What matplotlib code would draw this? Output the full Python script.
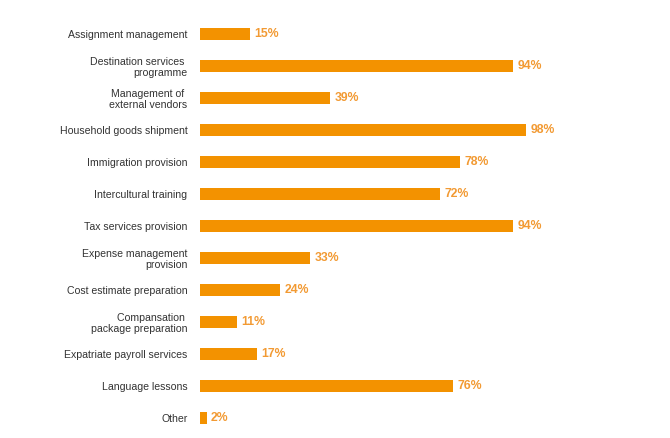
import matplotlib.pyplot as plt

categories = ['Assignment management', 'Destination services \nprogramme',
              'Management of \nexternal vendors', 'Household goods shipment',
              'Immigration provision', 'Intercultural training',
              'Tax services provision', 'Expense management\nprovision',
              'Cost estimate preparation', 'Compansation \npackage preparation',
              'Expatriate payroll services', 'Language lessons', 'Other']
values = [15, 94, 39, 98, 78, 72, 94, 33, 24, 11, 17, 76, 2]

bar_color = '#f39200'
pct_color = '#f29a33'

plt.rcParams['font.family'] = ['Liberation Sans', 'DejaVu Sans']

fig = plt.figure(figsize=(6.7, 4.38), dpi=100)
ax = fig.add_axes([200 / 670, 4 / 438, 333 / 670, 416 / 438])

y = list(range(len(categories)))
ax.barh(y, values, height=0.4, color=bar_color)

for yi, v in zip(y, values):
    ax.text(v + 1.3, yi, f'{v}%', va='center', ha='left', color=pct_color,
            fontsize=8.8, fontweight='bold')

ax.set_yticks(y)
ax.set_yticklabels(categories, fontsize=7.6, color='#333333', linespacing=1.15)
ax.tick_params(axis='y', length=0, pad=9)
ax.set_xticks([])
ax.set_xlim(0, 100)
ax.set_ylim(len(categories) - 0.5, -0.5)
for s in ax.spines.values():
    s.set_visible(False)

fig.savefig('out.png', dpi=100)
